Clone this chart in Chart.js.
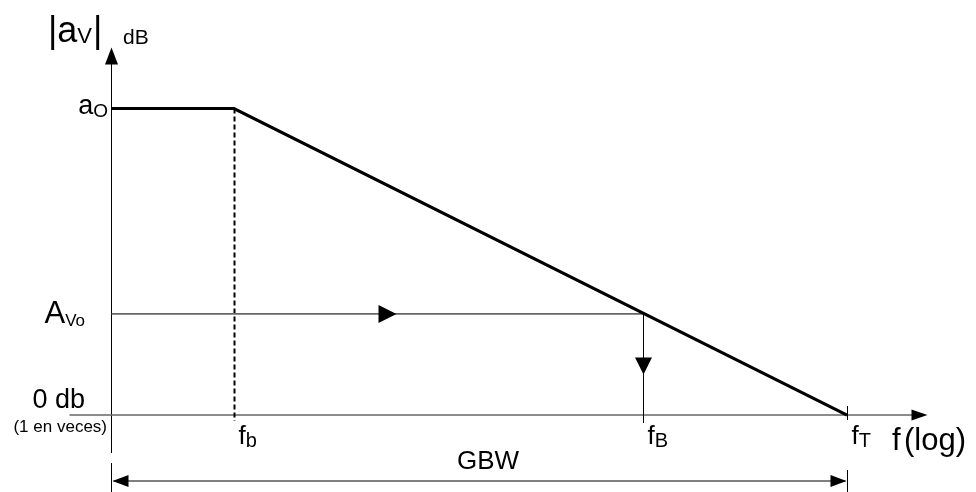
<!DOCTYPE html>
<html>
<head>
<meta charset="utf-8">
<title>Bode GBW</title>
<script src="https://cdn.jsdelivr.net/npm/chart.js@4.4.1/dist/chart.umd.min.js"></script>
<style>
  html, body { margin: 0; padding: 0; background: #fff; }
  #wrap { width: 976px; height: 492px; position: relative; }
</style>
</head>
<body>
<div id="wrap"><canvas id="my-chart"></canvas></div>
<script>
'use strict';

// ********** CHART DATA **********

// frequencies (Hz, log axis): fb, fB, fT
let freqValues = [10, 21500, 1000000];
let freqLabels = [['f', 'b'], ['f', 'B'], ['f', 'T']];
let startFreq = 1;

// gains (dB): ao, AVo, 0 db
let gainValues = [100, 33, 0];
let gainLabels = [['a', 'O'], ['A', 'Vo'], ['0 db', '']];

// visible range of the two (hidden) scales
let freqRange = [0.1234, 1.127e7];
let gainRange = [-25.1, 135.4];

// ********** LAYOUT / STYLE **********

let FONT = '"Liberation Sans", Arial, sans-serif';
let ctx = document.getElementById('my-chart');

function font(size) {
  return size + 'px ' + FONT;
}

// filled triangle, tip at (x, y), dir: 'up' 'down' 'left' 'right'
function arrowHead(c, x, y, dir, len, half) {
  c.beginPath();
  c.moveTo(x, y);
  if (dir === 'up') { c.lineTo(x - half, y + len); c.lineTo(x + half, y + len); }
  if (dir === 'down') { c.lineTo(x - half, y - len); c.lineTo(x + half, y - len); }
  if (dir === 'left') { c.lineTo(x + len, y - half); c.lineTo(x + len, y + half); }
  if (dir === 'right') { c.lineTo(x - len, y - half); c.lineTo(x - len, y + half); }
  c.closePath();
  c.fillStyle = '#000';
  c.fill();
}

function line(c, x1, y1, x2, y2, color, width) {
  c.beginPath();
  c.moveTo(x1, y1);
  c.lineTo(x2, y2);
  c.strokeStyle = color;
  c.lineWidth = width;
  c.stroke();
}

// main text + subscript, left aligned at x, returns end x
function subText(c, x, y, main, sub, mainSize, subSize, drop) {
  c.fillStyle = '#000';
  c.textBaseline = 'alphabetic';
  c.textAlign = 'left';
  c.font = font(mainSize);
  c.fillText(main, x, y);
  let w = c.measureText(main).width;
  c.font = font(subSize);
  c.fillText(sub, x + w, y + drop);
  return x + w + c.measureText(sub).width;
}

// ********** DRAWING PLUGIN **********

let bodePlugin = {
  id: 'bodeDecor',
  beforeDatasetsDraw(chart) {
    let c = chart.ctx;
    let xs = chart.scales.x;
    let ys = chart.scales.y;
    let x0 = Math.round(xs.getPixelForValue(startFreq)) + 0.5;
    let y0 = ys.getPixelForValue(gainValues[2]);
    let yA = ys.getPixelForValue(gainValues[0]);
    let yV = ys.getPixelForValue(gainValues[1]);
    let xb = Math.round(xs.getPixelForValue(freqValues[0])) + 0.5;
    let xB = Math.round(xs.getPixelForValue(freqValues[1])) + 0.5;
    let xT = Math.round(xs.getPixelForValue(freqValues[2])) + 0.5;
    c.save();

    // vertical axis
    line(c, x0, yA - 50, x0, y0 + 38, '#000', 1);
    // horizontal axis
    line(c, x0 - 42, y0, xT + 70, y0, '#666', 1.6);
    // tick at fT
    line(c, xT, y0 - 9, xT, y0 + 5, '#000', 1);
    // dashed drop at fb
    c.setLineDash([5, 3]);
    line(c, xb, yA, xb, y0 + 6, '#000', 2);
    c.setLineDash([]);
    // AVo level
    line(c, x0, yV, xB, yV, '#666', 1.6);
    // drop at fB
    line(c, xB, yV, xB, y0 + 8, '#000', 1);

    // GBW span
    let yG = y0 + 66;
    line(c, x0, y0 + 48, x0, chart.height, '#000', 1);
    line(c, xT, y0 + 55, xT, chart.height, '#000', 1);
    line(c, x0 + 2, yG, xT - 2, yG, '#555', 1.6);
    c.restore();
  },
  afterDatasetsDraw(chart) {
    let c = chart.ctx;
    let xs = chart.scales.x;
    let ys = chart.scales.y;
    let x0 = Math.round(xs.getPixelForValue(startFreq)) + 0.5;
    let y0 = ys.getPixelForValue(gainValues[2]);
    let yA = ys.getPixelForValue(gainValues[0]);
    let yV = ys.getPixelForValue(gainValues[1]);
    let fx = freqValues.map(v => Math.round(xs.getPixelForValue(v)) + 0.5);
    let xT = fx[2];
    c.save();

    // arrow heads
    arrowHead(c, x0, yA - 61, 'up', 17, 6.5);
    arrowHead(c, xT + 80, y0, 'right', 16, 5.5);
    arrowHead(c, (x0 + fx[1]) / 2 + 19, yV, 'right', 18, 9);
    arrowHead(c, fx[1], yV + 0.6 * (y0 - yV), 'down', 17, 8.5);
    arrowHead(c, x0 + 1, y0 + 66, 'left', 16, 6);
    arrowHead(c, xT - 1, y0 + 66, 'right', 16, 6);

    // y axis title |aV| dB
    let e = subText(c, 48, 42, '|a', 'V', 36, 22, 1);
    c.font = font(36);
    c.fillText('|', e + 1, 42);
    c.font = font(21);
    c.fillText('dB', 123, 44);

    // gain level labels (right aligned against the axis)
    let gy = [yA + 5, yV + 9, y0 - 7];
    let gSize = [[27, 19], [31, 17], [27, 0]];
    let gRight = [108, 85, 85];
    for (let i = 0; i < gainLabels.length; i++) {
      c.font = font(gSize[i][0]);
      let w = c.measureText(gainLabels[i][0]).width;
      let ws = 0;
      if (gainLabels[i][1]) {
        c.font = font(gSize[i][1]);
        ws = c.measureText(gainLabels[i][1]).width;
      }
      subText(c, gRight[i] - w - ws, gy[i], gainLabels[i][0], gainLabels[i][1], gSize[i][0], gSize[i][1], 3);
    }
    c.font = font(17);
    c.textAlign = 'right';
    c.fillText('(1 en veces)', 107, y0 + 17);

    // frequency labels
    for (let i = 0; i < freqLabels.length; i++) {
      subText(c, fx[i] + 4, y0 + 29, freqLabels[i][0], freqLabels[i][1], 26, 20, 3);
    }
    c.font = font(31);
    c.textAlign = 'left';
    c.fillText('f', 892, y0 + 35);
    c.fillText('(log)', 904, y0 + 35);

    // GBW
    c.font = font(26);
    c.textAlign = 'center';
    c.fillText('GBW', 488, y0 + 54);
    c.restore();
  }
};

// ********** CHART RENDERING **********

function renderChart() {
  let chartObj = {
    type: 'scatter',
    data: {
      datasets: [{
        label: '|aV| dB',
        data: [
          { x: startFreq, y: gainValues[0] },
          { x: freqValues[0], y: gainValues[0] },
          { x: freqValues[2], y: gainValues[2] }
        ],
        showLine: true,
        borderColor: '#000',
        borderWidth: 3.2,
        pointRadius: 0,
        borderCapStyle: 'butt',
        borderJoinStyle: 'miter'
      }]
    },
    options: {
      responsive: true,
      maintainAspectRatio: false,
      animation: false,
      layout: { padding: 0 },
      plugins: {
        legend: { display: false },
        tooltip: { enabled: false }
      },
      scales: {
        x: { type: 'logarithmic', min: freqRange[0], max: freqRange[1], display: false },
        y: { type: 'linear', min: gainRange[0], max: gainRange[1], display: false }
      }
    },
    plugins: [bodePlugin]
  };
  new Chart(ctx, chartObj); //eslint-disable-line
}

renderChart();
</script>
</body>
</html>
